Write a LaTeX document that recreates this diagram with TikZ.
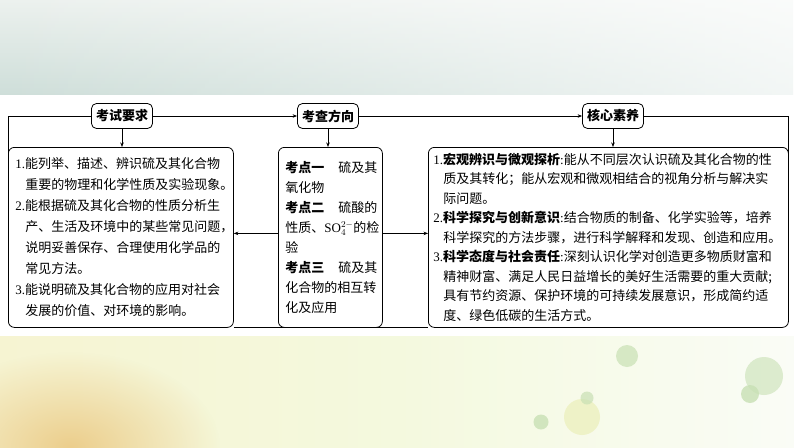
\documentclass[tikz,border=0pt]{standalone}
\usepackage{fontspec}
\setmainfont{Liberation Serif}
\newfontfamily\cjk{Noto Sans CJK SC}
\newfontfamily\latin{Liberation Serif}
\usetikzlibrary{arrows.meta,fadings}

\definecolor{bandtop}{RGB}{206,222,217}
\definecolor{bandlight}{RGB}{236,241,238}
\definecolor{bandyel}{RGB}{246,244,210}
\definecolor{bandmid}{RGB}{244,249,222}
\definecolor{bandend}{RGB}{250,252,246}
\definecolor{blobcol}{RGB}{236,206,140}
\definecolor{dotgreen}{RGB}{200,224,180}
\definecolor{dotyel}{RGB}{238,242,196}

\tikzfading[name=fadeband, left color=transparent!0, right color=transparent!75]
\tikzfading[name=blob, inner color=transparent!0, outer color=transparent!100]

\tikzset{
  head/.style={draw, rounded corners=5pt, minimum width=61pt, minimum height=25pt,
    inner sep=0pt, line width=0.8pt, font=\cjk\bfseries\fontsize{13}{15}\selectfont},
  box/.style={draw, rounded corners=6pt, anchor=north west, align=left,
    inner ysep=0pt, minimum height=180pt, line width=0.8pt},
  link/.style={line width=0.7pt},
  arr/.style={link, -{Stealth[length=4.5pt,width=3.5pt]}},
}
\newcommand\ind{\makebox[10pt]{}}
\newcommand\gap{\makebox[14pt]{}}

\begin{document}
\begin{tikzpicture}[x=1pt,y=-1pt]
\useasboundingbox (0,0) rectangle (794,447);
\fill[white] (0,0) rectangle (794,447);
\shade[top color=bandlight, bottom color=bandtop, path fading=fadeband] (0,0) rectangle (794,95);
\shade[left color=bandyel, right color=bandend, middle color=bandmid] (0,336) rectangle (794,447);
\fill[blobcol, path fading=blob] (70,447) ellipse (150 and 95);
\fill[dotgreen, opacity=0.7] (627,356) circle (11);
\fill[dotyel, opacity=0.9] (582,417) circle (18);
\fill[dotgreen, opacity=0.7] (587,398) circle (6.5);
\fill[dotgreen, opacity=0.8] (541,422) circle (7.5);
\fill[dotgreen, opacity=0.6] (764,376) circle (19);
\fill[dotgreen, opacity=0.8] (750,394) circle (9);

\node[head] (req) at (122,116) {考试要求};
\node[head] (dir) at (328,116) {考查方向};
\node[head] (score) at (613,116) {核心素养};

\node[box, inner xsep=7pt, text width=211pt, font=\cjk\fontsize{13}{21}\selectfont] (reqbox) at (8,147) {%
{\latin 1.}能列举、描述、辨识硫及其化合物\\
\ind 重要的物理和化学性质及实验现象。\\
{\latin 2.}能根据硫及其化合物的性质分析生\\
\ind 产、生活及环境中的某些常见问题，\\
\ind 说明妥善保存、合理使用化学品的\\
\ind 常见方法。\\
{\latin 3.}能说明硫及其化合物的应用对社会\\
\ind 发展的价值、对环境的影响。};

\node[box, inner xsep=7pt, text width=90pt, font=\cjk\fontsize{13}{20}\selectfont] (dirbox) at (278,147) {%
{\bfseries 考点一}\gap 硫及其\\
氧化物\\
{\bfseries 考点二}\gap 硫酸的\\
性质、{\latin SO}$_4^{2-}$的检\\
验\\
{\bfseries 考点三}\gap 硫及其\\
化合物的相互转\\
化及应用};

\node[box, inner xsep=5pt, text width=350pt, font=\cjk\fontsize{13}{19.5}\selectfont] (scorebox) at (428,147) {%
{\latin 1.}{\bfseries 宏观辨识与微观探析}{\latin :}能从不同层次认识硫及其化合物的性\\
\ind 质及其转化；能从宏观和微观相结合的视角分析与解决实\\
\ind 际问题。\\
{\latin 2.}{\bfseries 科学探究与创新意识}{\latin :}结合物质的制备、化学实验等，培养\\
\ind 科学探究的方法步骤，进行科学解释和发现、创造和应用。\\
{\latin 3.}{\bfseries 科学态度与社会责任}{\latin :}深刻认识化学对创造更多物质财富和\\
\ind 精神财富、满足人民日益增长的美好生活需要的重大贡献;\\
\ind 具有节约资源、保护环境的可持续发展意识，形成简约适\\
\ind 度、绿色低碳的生活方式。};

\draw[arr] (req) -- (dir);
\draw[arr] (dir) -- (score);
\draw[link] (req.west) -| (reqbox.west);
\draw[link] (score.east) -| (scorebox.east);
\draw[arr] (req.south) -- (req.south |- reqbox.north);
\draw[arr] (dir.south) -- (dir.south |- dirbox.north);
\draw[arr] (score.south) -- (score.south |- scorebox.north);
\draw[arr] ([yshift=4pt]dirbox.west) -- ([yshift=4pt]dirbox.west -| reqbox.east);
\draw[arr] ([yshift=4pt]dirbox.east) -- ([yshift=4pt]dirbox.east -| scorebox.west);
\draw[link] (reqbox.south east) -- (scorebox.south west);
\end{tikzpicture}
\end{document}
